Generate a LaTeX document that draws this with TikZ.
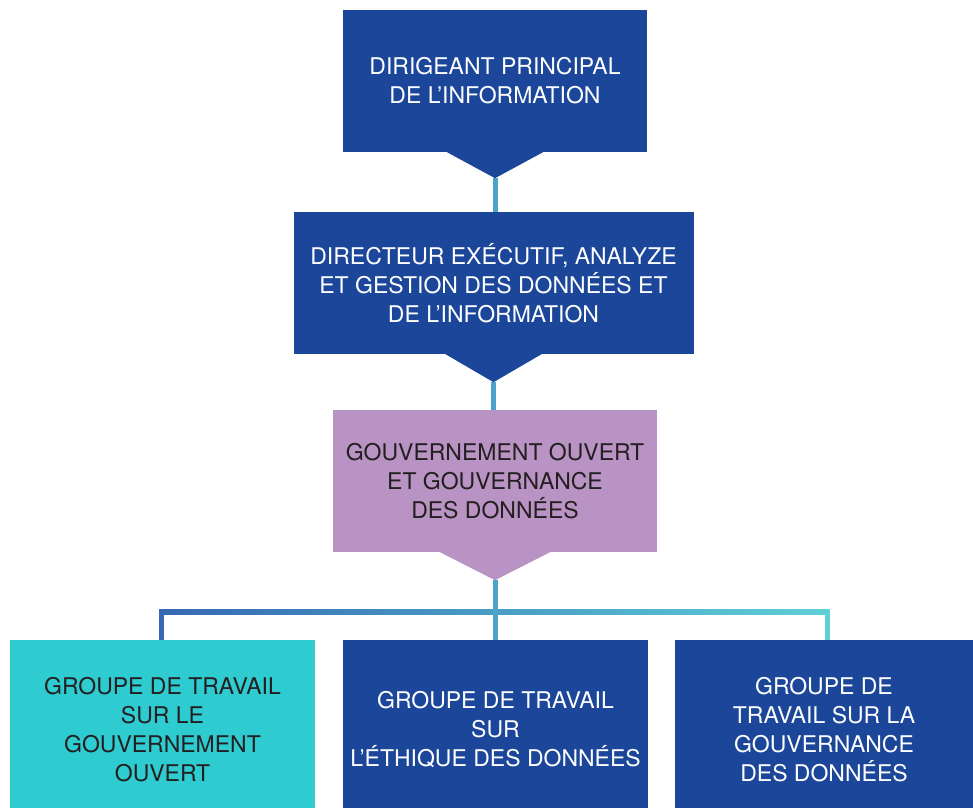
\documentclass[tikz,border=0pt]{standalone}
\usepackage{fontspec}
\setmainfont{TeX Gyre Heros}
\usepackage{tikz}
\usetikzlibrary{calc}
\definecolor{navy}{RGB}{27, 70, 153}
\definecolor{lilac}{RGB}{184, 147, 195}
\definecolor{teal}{RGB}{46, 203, 209}
\definecolor{ink}{RGB}{35, 31, 32}
\definecolor{linkblue}{RGB}{75, 164, 200}
\definecolor{busleft}{RGB}{53, 105, 179}
\definecolor{busright}{RGB}{94, 208, 214}
\tikzset{
    base/.style={text centered, align=center, font=\fontsize{23}{29}\selectfont, inner sep=0pt},
    topbox/.style={base, rectangle, fill=navy, text=white, minimum height=142pt},
    midbox/.style={base, rectangle, fill=lilac, text=ink, minimum width=324pt, minimum height=142pt},
    groupbox/.style={base, rectangle, minimum height=180pt},
    link/.style={line width=5pt, color=linkblue}
}

\begin{document}
\begin{tikzpicture}[x=1pt, y=-1pt]
        \useasboundingbox (0,0) rectangle (973,807);

        % -- Chain of command --
        \node (chief) [topbox, minimum width=304pt] at (495,81) {DIRIGEANT PRINCIPAL\\DE L’INFORMATION};
        \node (exec) [topbox, minimum width=400pt] at (493.5,283) {DIRECTEUR EXÉCUTIF, ANALYZE\\ET GESTION DES DONNÉES ET\\DE L’INFORMATION};
        \node (ogov) [midbox] at (495,481) {GOUVERNEMENT OUVERT\\ET GOUVERNANCE\\DES DONNÉES};

        % pointers under the boxes
        \foreach \n/\w/\h/\c in {chief/48/26/navy, exec/48/28/navy, ogov/55/28/lilac} {
            \coordinate (\n-tip) at ($(\n.south)+(0,\h)$);
            \fill [\c] ($(\n.south)+(-\w,0)$) -- (\n-tip) -- ($(\n.south)+(\w,0)$) -- cycle;
        }

        % -- Working groups --
        \node (wgopen) [groupbox, fill=teal, text=ink, minimum width=305pt] at (162.5,730) {GROUPE DE TRAVAIL\\SUR LE\\GOUVERNEMENT\\OUVERT};
        \node (wgethics) [groupbox, fill=navy, text=white, minimum width=305pt] at (495.5,730) {GROUPE DE TRAVAIL\\SUR\\L’ÉTHIQUE DES DONNÉES};
        \node (wggov) [groupbox, fill=navy, text=white, minimum width=298pt] at (824,730) {GROUPE DE\\TRAVAIL SUR LA\\GOUVERNANCE\\DES DONNÉES};

        % Connectors
        \draw [link] (chief-tip) -- (chief-tip |- exec.north);
        \draw [link] (exec-tip) -- (exec-tip |- ogov.north);
        \coordinate (busl) at ($(wgopen.north)+(-1,-28)$);
        \coordinate (busr) at ($(wggov.north)+(3,-28)$);
        \shade [left color=busleft, right color=busright] ($(busl)+(-2.5,-2.5)$) rectangle ($(busr)+(2.5,2.5)$);
        \draw [link, busleft] (busl) -- (busl |- wgopen.north);
        \draw [link, busright] (busr) -- (busr |- wggov.north);
        \draw [link] (ogov-tip) -- (ogov-tip |- wgethics.north);
    \end{tikzpicture}
\end{document}
